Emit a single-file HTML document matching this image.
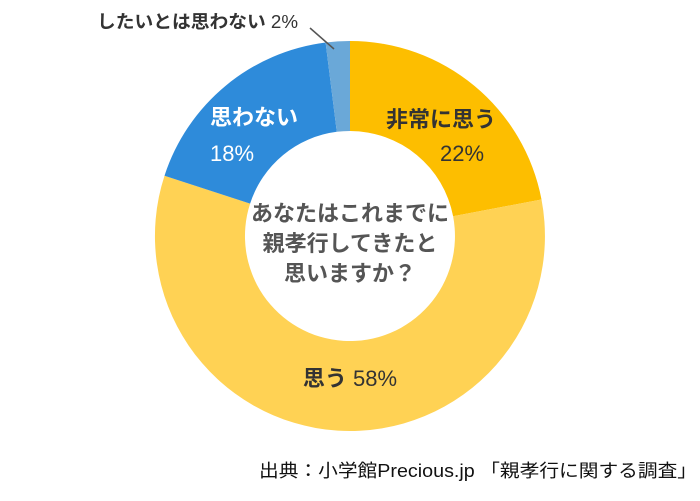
<!DOCTYPE html>
<html><head><meta charset="utf-8"><style>
html,body{margin:0;padding:0;background:#fff;}
svg{display:block;}
text{font-family:"Liberation Sans","Noto Sans CJK JP",sans-serif;}
</style></head><body>
<svg width="700" height="501" viewBox="0 0 700 501" xmlns="http://www.w3.org/2000/svg">
<rect width="700" height="501" fill="#fff"/>
<path d="M350,41 A195,195 0 0 1 541.5,199.5 L453.1,216.3 A105,105 0 0 0 350,131 Z" fill="#FDBE00"/>
<path d="M541.5,199.5 A195,195 0 1 1 164.5,175.7 L250.1,203.6 A105,105 0 1 0 453.1,216.3 Z" fill="#FFD254"/>
<path d="M164.5,175.7 A195,195 0 0 1 325.6,42.5 L336.8,131.8 A105,105 0 0 0 250.1,203.6 Z" fill="#2E8BDA"/>
<path d="M325.6,42.5 A195,195 0 0 1 350,41 L350,131 A105,105 0 0 0 336.8,131.8 Z" fill="#6AA8D8"/>
<line x1="310" y1="28" x2="334" y2="49" stroke="#555" stroke-width="1.5"/>
<text x="97" y="28" font-size="18" fill="#333" font-weight="bold" textLength="201" lengthAdjust="spacingAndGlyphs">したいとは思わない <tspan font-weight="normal">2%</tspan></text>
<text x="386" y="127" font-size="22" font-weight="bold" fill="#333">非常に思う</text>
<text x="440" y="161" font-size="22" fill="#333">22%</text>
<text x="210" y="125" font-size="22" font-weight="bold" fill="#fff">思わない</text>
<text x="210" y="161" font-size="22" fill="#fff">18%</text>
<g font-size="22" font-weight="bold" fill="#555" text-anchor="middle">
<text x="350" y="221">あなたはこれまでに</text>
<text x="350" y="251">親孝行してきたと</text>
<text x="350" y="281">思いますか？</text>
</g>
<text x="350" y="386" font-size="22" text-anchor="middle" fill="#333"><tspan font-weight="bold">思う</tspan> 58%</text>
<text x="259" y="477" font-size="18" fill="#111" textLength="438" lengthAdjust="spacingAndGlyphs">出典：小学館Precious.jp 「親孝行に関する調査」</text>
</svg>
</body></html>
